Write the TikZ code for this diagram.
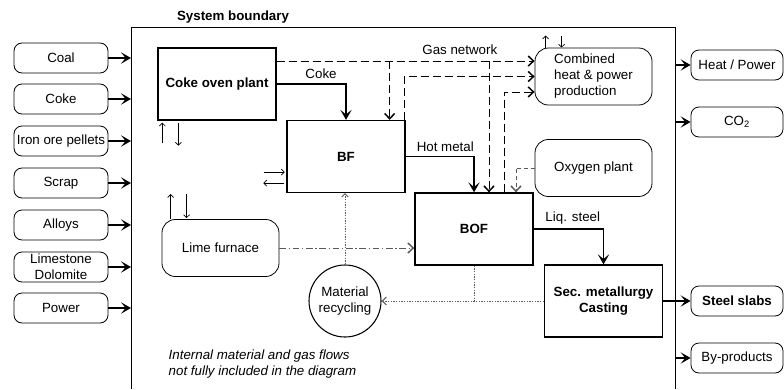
\documentclass[tikz,border=0pt]{standalone}
\usepackage{fontspec}
\setmainfont{Liberation Sans}
\usetikzlibrary{arrows.meta}
\definecolor{flowgray}{RGB}{90,90,90}

\tikzset{
  procbox/.style={draw, line width=1pt, minimum width=88.5pt, minimum height=54pt, align=center, font=\bfseries},
  inbox/.style={draw, rounded corners=6pt, line width=0.6pt, minimum width=70.5pt, minimum height=22.5pt, inner sep=1pt, align=center},
  outbox/.style={draw, rounded corners=6pt, line width=0.6pt, minimum width=69pt, minimum height=22.5pt, inner sep=1pt},
  plantbox/.style={draw, rounded corners=10pt, line width=0.6pt, minimum width=87.75pt, minimum height=42.75pt},
  mainflow/.style={line width=1pt, -{Stealth[length=7.5pt,width=8.5pt,inset=3.5pt]}},
  inflow/.style={line width=1.2pt, -{Stealth[length=7.5pt,width=8.5pt,inset=3.5pt]}},
  gasflow/.style={line width=0.6pt, dash pattern=on 6pt off 3pt, -{Straight Barb[length=4pt,width=7.5pt,line width=1.1pt]}},
  oxyflow/.style={line width=0.6pt, flowgray, dash pattern=on 3pt off 2pt, -{Straight Barb[length=4pt,width=7.5pt,line width=1.1pt]}},
  limeflow/.style={line width=0.6pt, flowgray, dash pattern=on 5pt off 2pt on 1pt off 2pt, -{Straight Barb[length=4pt,width=7.5pt,line width=1.1pt]}},
  recycflow/.style={line width=0.6pt, flowgray, dash pattern=on 1pt off 1pt},
  stub/.style={line width=0.5pt, -{Straight Barb[length=2.2pt,width=4.5pt]}},
}

\begin{document}
\begin{tikzpicture}[x=0.75pt, y=-0.75pt]
\useasboundingbox (0,0) rectangle (784,389);

% System boundary
\coordinate (bndtl) at (131,27);
\coordinate (bndtr) at (675,27);
\draw[line width=0.6pt] (131,389) -- (bndtl) -- (bndtr) -- (675,389);
\node[font=\bfseries] (bndlabel) at (233,17) {System boundary};

% Inputs
\foreach \name/\ypos/\txt in {coal/58/Coal, coke/99/Coke, ore/141/Iron ore pellets, scrap/183/Scrap,
    alloys/225/Alloys, lime/267/{Limestone\\Dolomite}, power/308/Power} {
  \node[inbox] (in\name) at (61,\ypos) {\txt};
  \draw[inflow] (in\name.east) -- (in\name.east -| bndtl);
}

% Process units
\node[procbox] (cokeoven) at (217,84) {Coke oven plant};
\node[procbox] (bf) at (346,156.5) {BF};
\node[procbox] (bof) at (474,229) {BOF};
\node[procbox] (sec) at (603.5,301) {Sec. metallurgy\\Casting};

% Plants
\node[plantbox, align=left] (chp) at (593.5,76.5) {Combined\\heat \& power\\production};
\node[plantbox] (oxygen) at (593.5,168) {Oxygen plant};
\node[plantbox] (limefurnace) at (220.5,248) {Lime furnace};
\node[circle, draw, line width=0.8pt, minimum size=54pt, inner sep=0pt, align=center] (recyc) at (345,301) {Material\\recycling};

% Main material flows
\draw[mainflow] (cokeoven.east) -| (bf.north) node[above, pos=0.32] {Coke};
\draw[mainflow] (bf.east) -| (bof.north) node[above, pos=0.29] {Hot metal};
\draw[mainflow] (bof.east) -| (sec.north) node[above, pos=0.28] {Liq. steel};

% Gas network
\coordinate (gasA) at ([yshift=11.6pt]chp.west);
\coordinate (gasC) at ([yshift=-11.6pt]chp.west);
\coordinate (bfgasin) at ([xshift=-12pt]bf.north east);
\coordinate (bfgasout) at ([xshift=-1pt]bf.north east);
\coordinate (bofgasin) at ([xshift=11.25pt]bof.north);
\coordinate (bofgasout) at ([xshift=22.5pt]bof.north);
\coordinate (bofoxin) at ([xshift=31.5pt]bof.north);
\draw[gasflow] (cokeoven.east |- gasA) -- (gasA) node[above, pos=0.71, yshift=1pt] {Gas network};
\draw[gasflow] (bfgasin |- gasA) -- (bfgasin);
\draw[gasflow] (bfgasout) |- (chp.west);
\draw[gasflow] (bofgasin |- gasA) -- (bofgasin);
\draw[gasflow] (bofgasout) |- (gasC);
\draw[oxyflow] (oxygen.west) -| (bofoxin);

% Lime and recycling
\draw[limeflow] (limefurnace.east) -- (limefurnace.east -| bof.west);
\draw[recycflow, -{Straight Barb[length=2.5pt,width=5pt]}] (recyc.north) -- (recyc.north |- bf.south);
\draw[recycflow, -{Straight Barb[length=3pt,width=6pt,line width=0.8pt]}] (sec.west) -- (recyc.east);
\draw[recycflow] (bof.south) -- (bof.south |- sec.west);

% Small exchange arrows
\draw[stub] ([xshift=3.75pt,yshift=-16.5pt]cokeoven.south west) -- ++(0,-20);
\draw[stub] ([xshift=15.75pt,yshift=-1.5pt]cokeoven.south west) -- ++(0,23);
\draw[stub] ([xshift=-17pt,yshift=15.75pt]bf.south west) -- ++(21,0);
\draw[stub] ([xshift=-1.5pt,yshift=7.5pt]bf.south west) -- ++(-21,0);
\draw[stub] ([xshift=6.75pt]limefurnace.north west) -- ++(0,-25);
\draw[stub] ([xshift=18.75pt,yshift=18.75pt]limefurnace.north west) -- ++(0,24);
\draw[stub] ([xshift=8.25pt]chp.north west) -- ++(0,-12);
\draw[stub] ([xshift=20.25pt,yshift=9pt]chp.north west) -- ++(0,12);

% Outputs
\foreach \name/\ypos/\txt in {heat/65/{Heat / Power}, co2/122/CO\textsubscript{2}, byprod/358/By-products} {
  \node[outbox] (out\name) at (737,\ypos) {\txt};
  \draw[inflow] (out\name.west -| bndtr) -- (out\name.west);
}
\node[outbox, font=\bfseries] (outslabs) at (737,301) {Steel slabs};
\draw[inflow] (sec.east) -- (outslabs.west);

% Note
\node[font=\itshape, align=left, anchor=west] (note) at (164,364) {Internal material and gas flows\\not fully included in the diagram};
\end{tikzpicture}
\end{document}
